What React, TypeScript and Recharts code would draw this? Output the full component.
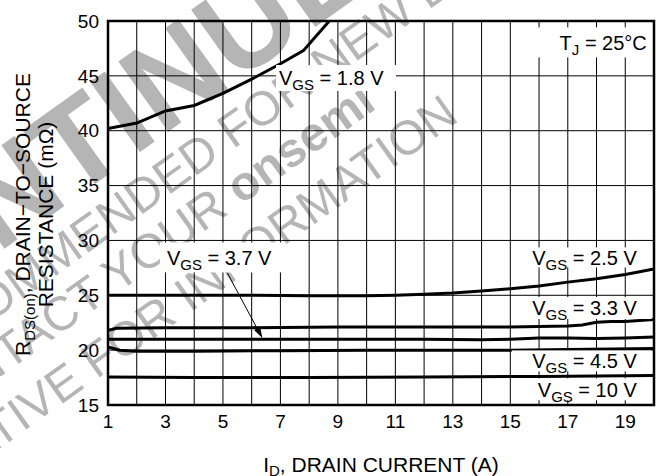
import React from 'react'
import {
  LineChart,
  Line,
  XAxis,
  YAxis,
  CartesianGrid,
  ReferenceArea,
  ReferenceDot,
  ReferenceLine,
} from 'recharts'

const FONT = '"Liberation Sans", Arial, Helvetica, sans-serif'

// axis ticks (vertical grid every 1 A, labels on odd values)
const currentTicks = [1, 2, 3, 4, 5, 6, 7, 8, 9, 10, 11, 12, 13, 14, 15, 16, 17, 18, 19, 20]
const resistanceTicks = [15, 20, 25, 30, 35, 40, 45, 50]

// VGS = 1.8 V
const id18 = [1, 2, 3, 4, 5, 6, 7, 7.8, 8.7]
const r18 = [40.2, 40.7, 41.8, 42.3, 43.4, 44.7, 46.1, 47.3, 50]
// VGS = 2.5 V
const id25 = [1, 2, 4, 6, 8, 10, 11, 12, 13, 14, 15, 16, 17, 18, 19, 20]
const r25 = [25, 25, 25, 25, 24.95, 24.95, 25, 25.1, 25.2, 25.4, 25.6, 25.85, 26.2, 26.5, 26.9, 27.4]
// VGS = 3.3 V
const id33 = [1, 1.3, 3, 6, 9, 12, 15, 16, 17, 17.5, 18, 18.5, 19, 20]
const r33 = [21.8, 22.0, 22.05, 22.05, 22.1, 22.1, 22.1, 22.15, 22.2, 22.3, 22.55, 22.6, 22.6, 22.8]
// VGS = 3.7 V
const id37 = [1, 3, 6, 9, 12, 14, 15, 16, 17, 18, 19, 20]
const r37 = [21.0, 21.0, 21.0, 21.0, 21.0, 20.95, 21.0, 21.1, 21.1, 21.05, 21.1, 21.2]
// VGS = 4.5 V
const id45 = [1, 1.4, 2, 4, 7, 10, 13, 15, 17, 20]
const r45 = [20.3, 20.0, 19.9, 19.9, 19.95, 20.0, 20.0, 20.0, 20.05, 20.15]
// VGS = 10 V
const id10 = [1, 4, 8, 12, 16, 20]
const r10 = [17.55, 17.5, 17.5, 17.55, 17.6, 17.7]

const toPoints = (ids: number[], res: number[]) => ids.map((x, i) => ({ x, r: res[i] }))

const curves = [
  { key: 'vgs18', points: toPoints(id18, r18) },
  { key: 'vgs25', points: toPoints(id25, r25) },
  { key: 'vgs33', points: toPoints(id33, r33) },
  { key: 'vgs37', points: toPoints(id37, r37) },
  { key: 'vgs45', points: toPoints(id45, r45) },
  { key: 'vgs10', points: toPoints(id10, r10) },
]

// curve tags: anchor in data units, text starts/ends at the anchor
const tags = [
  { main: 'V', sub: 'GS', text: '1.8 V', x: 6.95, y: 44.8, align: 'start', padL: 3, padR: 117, h: 26 },
  { main: 'V', sub: 'GS', text: '3.7 V', x: 3.05, y: 28.45, align: 'start', padL: 7, padR: 118, h: 30 },
  { main: 'V', sub: 'GS', text: '2.5 V', x: 19.4, y: 28.45, align: 'end', padL: 125, padR: 15, h: 20 },
  { main: 'V', sub: 'GS', text: '3.3 V', x: 19.4, y: 23.84, align: 'end', padL: 125, padR: 15, h: 22 },
  { main: 'V', sub: 'GS', text: '4.5 V', x: 19.4, y: 19.02, align: 'end', padL: 125, padR: 15, h: 21 },
  { main: 'V', sub: 'GS', text: '10 V', x: 19.4, y: 16.43, align: 'end', padL: 125, padR: 15, h: 22 },
  { main: 'T', sub: 'J', text: '25°C', x: 19.75, y: 48.05, align: 'end', padL: 117, padR: 5, h: 30 },
]

function Tag(props: any) {
  const { viewBox, t } = props
  const cx = viewBox.x + viewBox.width / 2
  const cy = viewBox.y + viewBox.height / 2
  return (
    <g>
      <rect x={cx - t.padL} y={cy - t.h / 2} width={t.padL + t.padR} height={t.h} fill="#fff" />
      <text
        x={cx}
        y={cy + 7.2}
        fontSize={20}
        fontFamily={FONT}
        fill="#000"
        textAnchor={t.align}
      >
        <tspan>{t.main}</tspan>
        <tspan fontSize={15} dy={5}>{t.sub}</tspan>
        <tspan dy={-5}>{' = ' + t.text}</tspan>
      </text>
    </g>
  )
}

function Arrow(props: any) {
  const { x1, y1, x2, y2 } = props
  const a = Math.atan2(y2 - y1, x2 - x1)
  const L = 11
  const W = 3.5
  const bx = x2 - L * Math.cos(a)
  const by = y2 - L * Math.sin(a)
  const pts = `${x2},${y2} ${bx + W * Math.sin(a)},${by - W * Math.cos(a)} ${bx - W * Math.sin(a)},${by + W * Math.cos(a)}`
  return (
    <g>
      <line x1={x1} y1={y1} x2={bx} y2={by} stroke="#000" strokeWidth={1} />
      <polygon points={pts} fill="#000" />
    </g>
  )
}

function XTick(props: any) {
  const { x, y, payload } = props
  if (payload.value % 2 === 0) return <g />
  return (
    <text x={x} y={y} dy="0.71em" textAnchor="middle" fontSize={19} fontFamily={FONT} fill="#000">
      {payload.value}
    </text>
  )
}

function XTitle(props: any) {
  const { viewBox } = props
  const cx = viewBox.x + viewBox.width / 2
  return (
    <text x={cx} y={viewBox.y + 67} textAnchor="middle" fontSize={21} fontFamily={FONT} fill="#000">
      I<tspan fontSize={15} dy={4}>D</tspan>
      <tspan dy={-4}>, DRAIN CURRENT (A)</tspan>
    </text>
  )
}

function YTitle(props: any) {
  const { viewBox } = props
  const cy = viewBox.y + viewBox.height / 2 + 1.5
  const x1 = 30
  const x2 = 53
  return (
    <g fontSize={21} fontFamily={FONT} fill="#000">
      <text x={x1} y={cy} textAnchor="middle" transform={`rotate(-90, ${x1}, ${cy})`}>
        R<tspan fontSize={15} dy={5}>DS(on)</tspan>
        <tspan dy={-5}>, DRAIN−TO−SOURCE</tspan>
      </text>
      <text x={x2} y={cy} textAnchor="middle" transform={`rotate(-90, ${x2}, ${cy})`}>
        RESISTANCE (mΩ)
      </text>
    </g>
  )
}

function Watermark() {
  return (
    <svg width={659} height={476} style={{ position: 'absolute', left: 0, top: 0 }}>
      <g transform="rotate(-35.5)" fill="#b5b5b5" fontFamily={FONT}>
        <text x={-545} y={205} fontSize={125} fontWeight="bold">DISCONTINUED</text>
        <text x={-411} y={257} fontSize={48}>NOT RECOMMENDED FOR NEW DESIGN</text>
        <text x={245} y={307} fontSize={48} textAnchor="end">
          PLEASE CONTACT YOUR <tspan fontWeight="bold">onsemi</tspan>
        </text>
        <text x={-580} y={365} fontSize={48}>REPRESENTATIVE FOR INFORMATION</text>
      </g>
    </svg>
  )
}

export default function App() {
  return (
    <div style={{ position: 'absolute', left: 0, top: 0, width: 659, height: 476, background: '#fff' }}>
      <Watermark />
      <div style={{ position: 'absolute', left: 0, top: 0 }}>
        <LineChart width={659} height={476} margin={{ top: 21, right: 5, bottom: 0, left: 0 }}>
          <CartesianGrid stroke="#000" strokeWidth={1} />
          <XAxis
            type="number"
            dataKey="x"
            domain={[1, 20]}
            ticks={currentTicks}
            allowDataOverflow
            axisLine={false}
            tickLine={false}
            tickSize={0}
            tickMargin={10}
            height={71}
            tick={<XTick />}
            label={{ content: <XTitle /> }}
          />
          <YAxis
            type="number"
            domain={[15, 50]}
            ticks={resistanceTicks}
            allowDataOverflow
            axisLine={false}
            tickLine={false}
            tickSize={0}
            tickMargin={9}
            width={108}
            tick={{ fontSize: 19, fill: '#000', fontFamily: FONT }}
            label={{ content: <YTitle /> }}
          />
          {curves.map((c) => (
            <Line
              key={c.key}
              data={c.points}
              dataKey="r"
              type="linear"
              stroke="#000"
              strokeWidth={3}
              dot={false}
              activeDot={false}
              isAnimationActive={false}
            />
          ))}
          <ReferenceArea x1={1} x2={20} y1={15} y2={50} fill="none" fillOpacity={0} stroke="#000" strokeWidth={2.5} />
          <ReferenceLine
            segment={[
              { x: 5.15, y: 27.05 },
              { x: 6.37, y: 21.1 },
            ]}
            shape={<Arrow />}
          />
          {tags.map((t) => (
            <ReferenceDot
              key={t.main + t.text}
              x={t.x}
              y={t.y}
              r={1}
              fill="none"
              stroke="none"
              label={{ content: <Tag t={t} /> }}
            />
          ))}
        </LineChart>
      </div>
    </div>
  )
}
